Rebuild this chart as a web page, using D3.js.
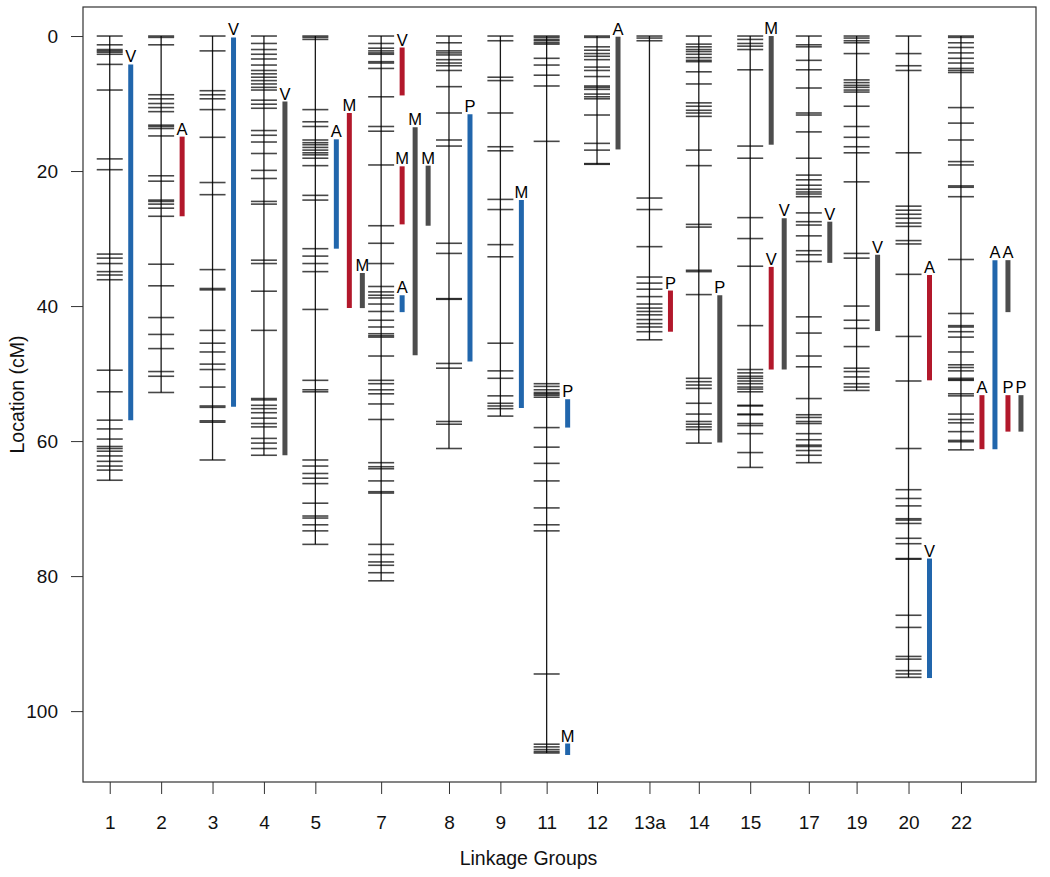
<!DOCTYPE html>
<html>
<head>
<meta charset="utf-8">
<script src="https://cdn.jsdelivr.net/npm/d3@7"></script>
<style>
  html, body { margin: 0; padding: 0; background: #fff; }
  svg { display: block; font-family: "Liberation Sans", Arial, Helvetica, sans-serif; }
</style>
</head>
<body>
<svg id="chart" width="1050" height="877"></svg>
<script>
// ---------------- DATA ----------------
const groups    = ["1","2","3","4","5","7","8","9","11","12","13a","14","15","17","19","20","22"];
// position of each linkage group along the x axis (in group-spacing units)
const groupSlot = [0, 1, 2, 3, 4, 5.28, 6.6, 7.6, 8.5, 9.48, 10.5, 11.46, 12.46, 13.6, 14.53, 15.54, 16.56];

const lg1  = [0,1.3,2.0,2.2,2.4,2.7,4.2,8.0,18.2,19.8,32.3,32.9,33.7,34.9,35.4,36.1,49.5,52.7,56.9,58.2,59.7,60.8,61.1,61.5,62.2,63.0,63.7,64.3,65.8];
const lg2  = [0,0.2,1.3,8.7,9.3,10.0,10.6,11.2,13.2,13.4,13.7,14.8,20.7,21.5,24.3,24.5,24.9,25.5,26.7,33.8,37.0,41.7,44.2,46.3,49.7,50.4,52.8];
const lg3  = [0,2.2,8.1,8.7,9.3,10.9,15.0,21.7,23.5,34.6,37.4,37.6,43.6,45.5,46.8,48.6,49.4,52.0,54.8,55.0,57.0,57.2,62.8];
const lg4  = [0,1.1,2.0,2.7,3.4,4.3,5.1,5.6,6.1,6.6,7.1,7.6,8.0,9.5,10.1,10.7,14.0,14.7,15.7,17.4,19.9,21.1,24.5,24.9,33.2,33.7,37.8,43.6,53.7,53.9,54.7,55.2,55.8,56.6,57.4,57.9,59.6,60.3,61.1,62.1];
const lg5  = [0,0.2,0.5,10.9,12.7,13.4,15.4,15.8,16.1,16.5,16.9,17.3,17.6,18.1,19.2,23.6,24.3,31.5,32.6,33.7,34.9,40.5,51.0,52.4,52.7,62.8,63.7,64.8,65.5,66.3,69.2,71.1,71.4,72.4,73.3,75.3];
const lg7  = [0,1.1,1.8,2.2,2.5,2.7,3.8,4.0,4.8,9.0,13.4,14.1,19.1,28.1,30.7,33.7,37.1,37.9,38.4,38.8,39.7,40.8,42.1,43.1,44.1,44.4,44.6,47.4,51.0,51.5,52.4,53.0,54.5,56.8,63.2,63.8,64.1,65.9,67.5,67.7,75.3,76.8,77.9,78.4,79.5,80.7];
const lg8  = [0,1.0,2.2,2.5,2.8,3.5,4.0,4.4,5.1,7.5,11.4,15.4,16.3,30.7,32.2,38.9,39.0,48.5,49.2,57.1,57.5,61.1];
const lg9  = [0,0.7,6.1,6.6,11.4,16.4,17.0,24.2,25.7,30.9,32.7,45.5,49.6,50.7,53.3,54.4,54.8,55.2,56.3];
const lg11 = [0,0.2,0.5,0.7,1.0,1.2,3.3,4.3,5.8,7.4,15.6,51.5,51.9,52.4,52.8,53.0,53.2,53.5,58.0,60.9,63.3,65.9,69.9,72.4,73.3,94.5,104.9,105.3,105.7,106.0,106.2];
const lg12 = [0,0.2,1.6,2.1,2.6,3.0,3.5,4.6,5.1,6.0,7.4,7.6,7.9,8.6,9.0,9.3,11.7,15.9,16.9,18.9,19.0];
const lg13a= [0,0.3,0.7,24.0,25.7,31.2,35.7,36.6,37.5,38.6,39.7,40.3,40.8,41.3,42.0,42.6,43.1,43.8,45.0];
const lg14 = [0,1.2,1.6,2.0,2.3,2.7,3.2,3.6,3.8,5.3,7.1,9.9,10.4,11.0,11.4,11.9,16.9,19.2,27.9,28.3,34.7,34.9,38.3,50.7,51.2,51.7,52.2,54.4,56.0,57.1,57.5,57.9,58.3,60.3];
const lg15 = [0,0.5,1.1,1.5,2.0,5.0,16.3,18.1,26.9,30.0,34.1,42.9,49.4,49.9,50.4,50.7,51.1,51.5,52.0,52.3,52.7,54.7,54.8,56.0,56.1,57.4,57.7,58.9,61.7,63.9];
const lg17 = [0,1.3,1.6,3.6,5.0,7.7,11.4,11.7,14.2,18.1,20.6,21.3,22.1,22.7,23.1,23.4,23.8,26.2,27.5,28.0,29.6,31.8,32.4,33.4,41.6,44.0,47.4,49.0,53.7,56.1,56.5,57.1,57.4,58.9,59.8,60.6,60.8,61.4,62.1,63.2];
const lg19 = [0,0.3,0.7,1.0,2.6,6.5,6.9,7.3,7.6,8.0,8.3,10.4,13.4,15.0,16.4,17.3,21.6,32.2,32.9,40.0,42.1,43.3,46.0,49.2,49.7,50.5,51.5,52.0,52.5];
const lg20 = [0,2.6,4.4,5.1,17.3,25.2,25.8,26.4,27.0,27.7,28.2,30.3,30.8,35.3,44.5,51.1,61.1,67.2,68.5,69.6,71.5,71.7,72.2,74.4,75.2,77.4,77.5,85.8,87.6,91.9,92.3,94.0,94.5,95.0];
const lg22 = [0,0.2,1.0,1.7,2.5,3.3,4.0,4.8,5.1,5.4,10.6,12.9,15.4,18.6,19.1,22.2,22.4,23.8,33.1,41.1,42.9,43.1,43.8,44.6,46.8,48.7,49.1,49.6,50.7,50.9,51.0,53.0,53.3,56.0,56.8,57.3,58.6,59.9,60.1,61.3];

const markerLists = [lg1,lg2,lg3,lg4,lg5,lg7,lg8,lg9,lg11,lg12,lg13a,lg14,lg15,lg17,lg19,lg20,lg22];

// QTL intervals
const qtlGroup = ["1","2","3","4","5","5","5","7","7","7","7","7","8","9","11","11","12","13a","14","15","15","15","17","19","20","20","22","22","22","22","22"];
const qtlTrait = ["V","A","V","V","A","M","M","V","M","A","M","M","P","M","P","M","A","P","P","M","V","V","V","V","A","V","A","A","A","P","P"];
const qtlSet   = ["b","r","b","g","b","r","g","r","r","b","g","g","b","b","b","b","g","r","g","g","r","g","g","g","r","b","r","b","g","r","g"];
const qtlStart = [4.2,14.9,0.2,9.7,15.3,11.4,35.1,1.7,19.3,38.4,13.5,19.2,11.6,24.3,53.8,104.8,0.1,37.7,38.4,0,34.2,27.0,27.5,32.4,35.4,77.4,53.2,33.2,33.2,53.2,53.2];
const qtlEnd   = [56.9,26.7,54.9,62.1,31.5,40.3,40.3,8.8,27.9,40.9,47.3,28.1,48.2,55.1,58.0,106.5,16.8,43.8,60.2,16.1,49.4,49.4,33.6,43.7,51.0,95.1,61.2,61.2,40.9,58.6,58.6];
const qtlLane  = [0,0,0,0,0,1,2,0,0,0,1,2,0,0,0,0,0,0,0,0,0,1,0,0,0,0,0,1,2,2,3];

const yTicks = [0,20,40,60,80,100];

// ---------------- LAYOUT ----------------
const svg = d3.select("#chart");
const M = {left: 83, right: 1036, top: 7, bottom: 782};

const x = d3.scaleLinear().domain([-0.52, 18.02]).range([M.left, M.right]);
const y = d3.scaleLinear().domain([-4.3, 110.5]).range([M.top, M.bottom]);
const color = d3.scaleOrdinal().domain(["b","r","g"]).range(["#2166AC","#B2182B","#4D4D4D"]);

const gx = g => x(groupSlot[groups.indexOf(g)]);
const laneOffset = l => 21 + l * 13;
const halfTick = 13;

// chromosome backbones
const chroms = groups.map((g, i) => ({g, slot: groupSlot[i], m: markerLists[i]}));
const cg = svg.append("g");
cg.selectAll("line.chr").data(chroms).join("line")
  .attr("class", "chr")
  .attr("x1", d => x(d.slot)).attr("x2", d => x(d.slot))
  .attr("y1", d => y(d3.min(d.m))).attr("y2", d => y(d3.max(d.m)))
  .attr("stroke", "#1a1a1a").attr("stroke-width", 1.3);

// markers
const mk = [];
chroms.forEach(c => c.m.forEach(v => mk.push({slot: c.slot, v})));
cg.selectAll("line.mk").data(mk).join("line")
  .attr("class", "mk")
  .attr("x1", d => x(d.slot) - halfTick).attr("x2", d => x(d.slot) + halfTick)
  .attr("y1", d => y(d.v)).attr("y2", d => y(d.v))
  .attr("stroke", "#000").attr("stroke-opacity", 0.72).attr("stroke-width", 1.6);

// QTL bars
const qtl = qtlGroup.map((g, i) => ({g, t: qtlTrait[i], s: qtlSet[i], a: qtlStart[i], b: qtlEnd[i], lane: qtlLane[i]}));
const qg = svg.append("g");
qg.selectAll("line.q").data(qtl).join("line")
  .attr("class", "q")
  .attr("x1", d => gx(d.g) + laneOffset(d.lane)).attr("x2", d => gx(d.g) + laneOffset(d.lane))
  .attr("y1", d => y(d.a)).attr("y2", d => y(d.b))
  .attr("stroke", d => color(d.s)).attr("stroke-width", 5);
qg.selectAll("text.ql").data(qtl).join("text")
  .attr("class", "ql")
  .attr("x", d => gx(d.g) + laneOffset(d.lane))
  .attr("y", d => y(d.a) - 2)
  .attr("text-anchor", "middle")
  .attr("font-size", 16.5)
  .attr("fill", "#000")
  .text(d => d.t);

// frame
svg.append("rect")
  .attr("x", M.left).attr("y", M.top)
  .attr("width", M.right - M.left).attr("height", M.bottom - M.top)
  .attr("fill", "none").attr("stroke", "#333").attr("stroke-width", 1.2);

// left axis
const ya = svg.append("g").attr("transform", `translate(${M.left},0)`)
  .call(d3.axisLeft(y).tickValues(yTicks).tickSize(12).tickPadding(13).tickFormat(d3.format("d")));
ya.select(".domain").remove();
ya.selectAll("line").attr("stroke", "#333");
ya.selectAll("text").attr("font-size", 19).attr("fill", "#111").attr("font-family", "Liberation Sans, Arial, sans-serif");

// bottom axis
const xa = svg.append("g").attr("transform", `translate(0,${M.bottom})`)
  .call(d3.axisBottom(x).tickValues(groupSlot).tickSize(12).tickPadding(22)
        .tickFormat((d, i) => groups[i]));
xa.select(".domain").remove();
xa.selectAll("line").attr("stroke", "#333");
xa.selectAll("text").attr("font-size", 19).attr("fill", "#111").attr("font-family", "Liberation Sans, Arial, sans-serif");

// titles
svg.append("text")
  .attr("x", (M.left + M.right) / 2 - 31).attr("y", 865)
  .attr("text-anchor", "middle").attr("font-size", 19.5).attr("fill", "#111")
  .text("Linkage Groups");
svg.append("text")
  .attr("transform", `translate(24,${(M.top + M.bottom) / 2}) rotate(-90)`)
  .attr("text-anchor", "middle").attr("font-size", 19.5).attr("fill", "#111")
  .text("Location (cM)");
</script>
</body>
</html>
